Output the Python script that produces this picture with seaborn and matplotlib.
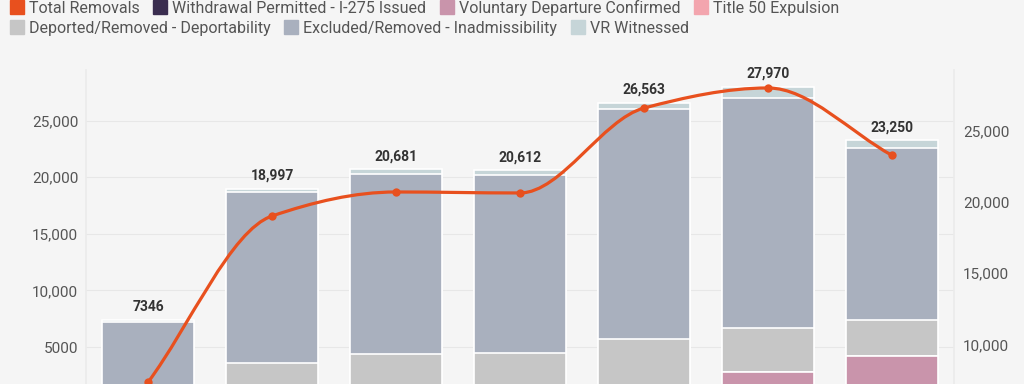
import numpy as np
import matplotlib
matplotlib.use('Agg')
import matplotlib.pyplot as plt
from matplotlib.path import Path
from matplotlib.patches import PathPatch
from matplotlib.lines import Line2D
from matplotlib.ticker import FuncFormatter
import seaborn as sns

# data (lower part is cropped in the reference)
years = ['FY2017', 'FY2018', 'FY2019', 'FY2020', 'FY2021', 'FY2022', 'FY2023']
total_removals = [7346, 18997, 20681, 20612, 26563, 27970, 23250]
withdrawal = [20, 60, 80, 90, 110, 90, 80]
voluntary = [0, 0, 0, 0, 0, 2700, 4125]
title50 = [0, 0, 0, 0, 0, 0, 0]
deported = [1380, 3500, 4300, 4410, 5570, 3890, 3180]
excluded = [5800, 15140, 15920, 15700, 20350, 20340, 15170]
vr_witnessed = [146, 297, 381, 412, 533, 950, 695]

# colors
c_total = '#E8501E'
c_withdrawal = '#3A2D4F'
c_voluntary = '#C994AB'
c_title50 = '#F3A5AE'
c_deported = '#C6C6C6'
c_excluded = '#A9B0BE'
c_vr = '#C6D5D8'
bg = '#F5F5F5'

sns.set_theme(style='white')
plt.rcParams['font.family'] = ['Roboto', 'DejaVu Sans']

fig = plt.figure(figsize=(10.24, 3.84), dpi=100, facecolor=bg)
ax = fig.add_axes([86 / 1024, 0.0, (954 - 86) / 1024, 1 - 70 / 384])
ax.set_facecolor(bg)

# stacked bars: draw cumulative tops from the top layer down
layers = [withdrawal, voluntary, title50, deported, excluded, vr_witnessed]
colors = [c_withdrawal, c_voluntary, c_title50, c_deported, c_excluded, c_vr]
cum = np.cumsum(np.array(layers), axis=0)
for i in range(len(layers) - 1, -1, -1):
    sns.barplot(x=years, y=cum[i], color=colors[i], width=0.74, saturation=1,
                edgecolor='white', linewidth=1.2, ax=ax)

fmt = lambda v: f'{int(v):,}' if v >= 10000 else f'{int(v)}'

for i, v in enumerate(total_removals):
    ax.annotate(fmt(v), (i, v), xytext=(0, 9.5), textcoords='offset points',
                ha='center', va='center', fontsize=10, fontweight='bold', color='#333333')

ax.set_ylim(1732, 29470)
ax.set_xlim(-0.5, 6.5)
ax.set_yticks([5000, 10000, 15000, 20000, 25000])
ax.yaxis.set_major_formatter(FuncFormatter(lambda v, p: fmt(v)))
ax.set_axisbelow(True)
ax.yaxis.grid(True, color='#E7E7E7', lw=0.8)
ax.tick_params(axis='y', length=0, pad=5.5, labelsize=11, labelcolor='#555555')
ax.tick_params(axis='x', length=0, labelbottom=False)
ax.set_xlabel('')
ax.set_ylabel('')
for s in ['top', 'bottom']:
    ax.spines[s].set_visible(False)
for s in ['left', 'right']:
    ax.spines[s].set_color('#EBEBEB')

# total removals line on the right axis, smooth curve through the points
ax2 = ax.twinx()
ax2.set_ylim(7225, 29229)


def smooth_path(y):
    y = np.asarray(y, float)
    x = np.arange(len(y))
    d = np.diff(y)
    m = np.zeros(len(y))
    m[0], m[-1] = d[0], d[-1]
    for i in range(1, len(y) - 1):
        if d[i - 1] * d[i] > 0:
            m[i] = 2 * d[i - 1] * d[i] / (d[i - 1] + d[i])
    verts = [(x[0], y[0])]
    codes = [Path.MOVETO]
    for i in range(len(y) - 1):
        verts += [(x[i] + 1 / 3, y[i] + m[i] / 3), (x[i + 1] - 1 / 3, y[i + 1] - m[i + 1] / 3), (x[i + 1], y[i + 1])]
        codes += [Path.CURVE4] * 3
    return Path(verts, codes)


ax2.add_patch(PathPatch(smooth_path(total_removals), transform=ax2.transData,
                        fill=False, edgecolor=c_total, lw=2.3, capstyle='round'))
sns.scatterplot(x=np.arange(len(years)), y=total_removals, color=c_total, s=36,
                edgecolor=c_total, linewidth=0, ax=ax2, zorder=5)
ax2.set_xlim(-0.5, 6.5)
ax2.set_yticks([10000, 15000, 20000, 25000])
ax2.yaxis.set_major_formatter(FuncFormatter(lambda v, p: fmt(v)))
ax2.tick_params(axis='y', length=0, pad=6.5, labelsize=11, labelcolor='#555555')
for s in ['top', 'bottom', 'left', 'right']:
    ax2.spines[s].set_visible(False)

# legend in two flowing rows
def handle(c):
    return Line2D([], [], marker='s', ls='', markersize=10, markerfacecolor=c, markeredgecolor=c)

row1 = [('Total Removals', c_total), ('Withdrawal Permitted - I-275 Issued', c_withdrawal),
        ('Voluntary Departure Confirmed', c_voluntary), ('Title 50 Expulsion', c_title50)]
row2 = [('Deported/Removed - Deportability', c_deported), ('Excluded/Removed - Inadmissibility', c_excluded),
        ('VR Witnessed', c_vr)]
for row, yy in [(row1, 1 - 8 / 384), (row2, 1 - 28.5 / 384)]:
    fig.legend([handle(c) for _, c in row], [t for t, _ in row], loc='center left',
               bbox_to_anchor=(11 / 1024, yy), ncol=len(row), frameon=False, fontsize=11.5,
               labelcolor='#555555', handlelength=0.7, handletextpad=0.4, columnspacing=0.95,
               borderpad=0, borderaxespad=0)

plt.savefig('out.png', dpi=100, facecolor=bg)
